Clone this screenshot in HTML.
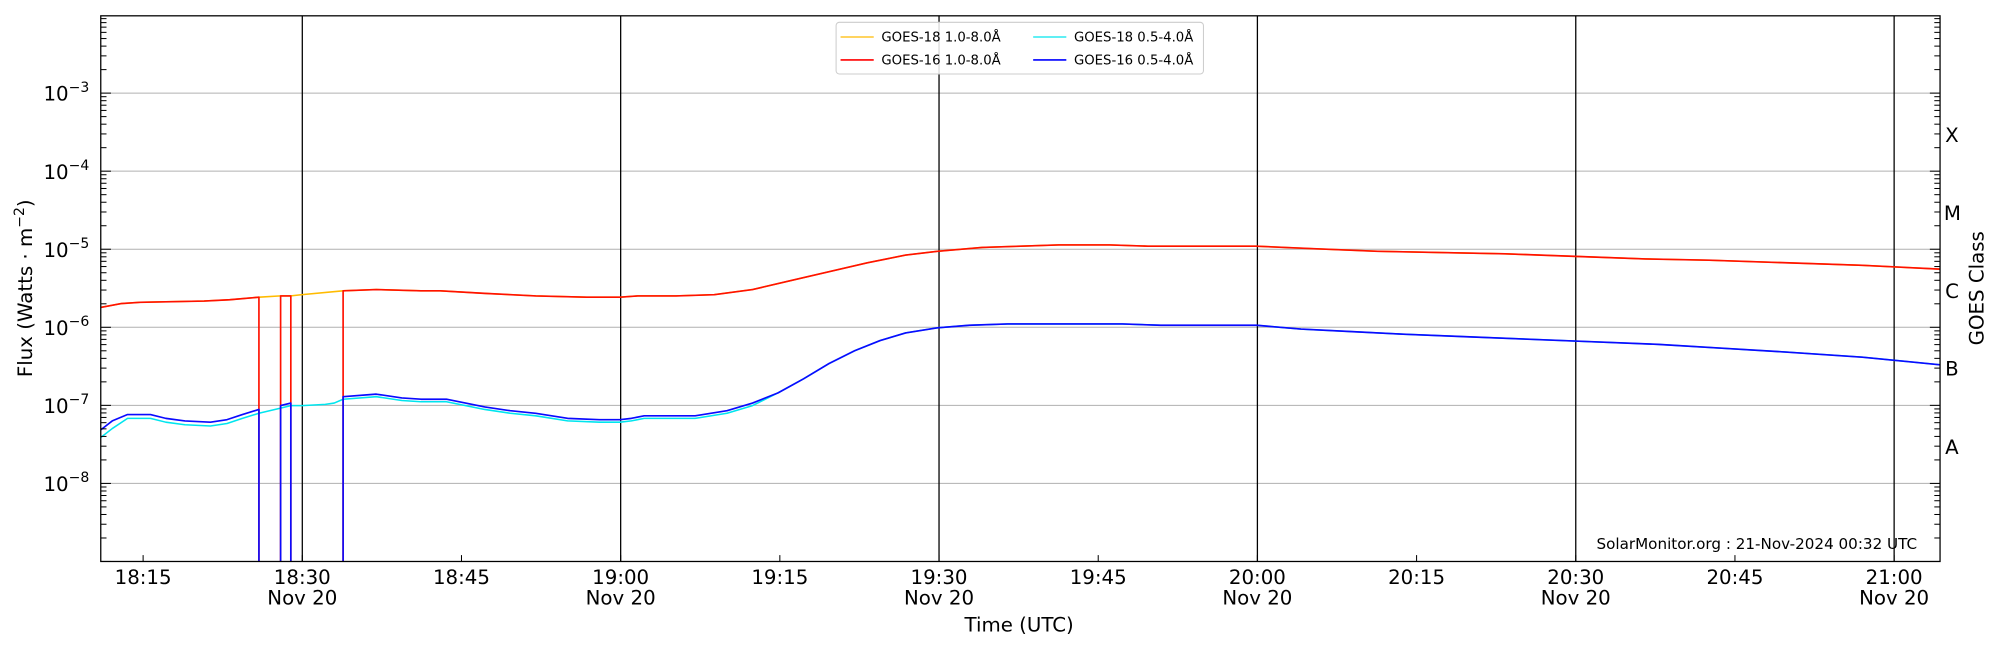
<!DOCTYPE html>
<html><head><meta charset="utf-8"><style>
html,body{margin:0;padding:0;background:#fff;}
svg{display:block;font-family:"DejaVu Sans","Liberation Sans",sans-serif;}
</style></head><body>
<svg id="s" width="2000" height="650" viewBox="0 0 1568 509.6" preserveAspectRatio="none" xmlns="http://www.w3.org/2000/svg">
<rect width="1568" height="509.6" fill="#fff"/>
<g id="grid"></g>
<g id="data" fill="none" stroke-linejoin="round"></g>
<g id="ticks" stroke="#000" stroke-width="0.8"></g>
<rect x="79" y="12.4" width="1442" height="427.8" fill="none" stroke="#000" stroke-width="1"/>
<g id="labels" font-size="15.5" fill="#000"></g>
<rect x="655.5" y="17.5" width="288" height="40.5" rx="2.5" fill="#fff" fill-opacity="0.85" stroke="#ccc" stroke-width="0.8"/>
<g font-size="10.4" fill="#000">
<line x1="659" y1="29" x2="685" y2="29" stroke="#ffbb00" stroke-width="1"/>
<text x="691" y="32.5">GOES-18 1.0-8.0Å</text>
<line x1="659" y1="47" x2="685" y2="47" stroke="#ff0000" stroke-width="1.2"/>
<text x="691" y="50.5">GOES-16 1.0-8.0Å</text>
<line x1="810" y1="29" x2="836" y2="29" stroke="#00e5ee" stroke-width="1"/>
<text x="842" y="32.5">GOES-18 0.5-4.0Å</text>
<line x1="810" y1="47" x2="836" y2="47" stroke="#0000ff" stroke-width="1.2"/>
<text x="842" y="50.5">GOES-16 0.5-4.0Å</text>
</g>
<text x="1503" y="430.5" font-size="11.9" text-anchor="end">SolarMonitor.org : 21-Nov-2024 00:32 UTC</text>
<text x="799" y="495" font-size="15.5" text-anchor="middle">Time (UTC)</text>
<text transform="translate(25,226) rotate(-90)" font-size="15.5" text-anchor="middle">Flux (Watts · m<tspan dy="-6" font-size="11">−2</tspan><tspan dy="6">)</tspan></text>
<text transform="translate(1555,226) rotate(-90)" font-size="15.5" text-anchor="middle">GOES Class</text>
<g font-size="15.5">
<text x="1525" y="111.5">X</text>
<text x="1524" y="172.5">M</text>
<text x="1525" y="233.5">C</text>
<text x="1525" y="294.5">B</text>
<text x="1525" y="356">A</text>
</g>
</svg>
<script>
var NS="http://www.w3.org/2000/svg";
function el(p,t,a,txt){var e=document.createElementNS(NS,t);for(var k in a)e.setAttribute(k,a[k]);if(txt!=null)e.textContent=txt;document.getElementById(p).appendChild(e);return e;}
var L=79,R=1521,T=12.4,B=440.2,D=61.2;
function yv(p){return B-(p+9)*D;}
for(var p=-8;p<=-3;p++){el("grid","line",{x1:L,x2:R,y1:yv(p),y2:yv(p),stroke:"#b0b0b0","stroke-width":0.8});}
for(var p=-9;p<=-3;p++){for(var m=1;m<10;m++){var y=B-(p+9+Math.log10(m))*D;if(y<T||y>B)continue;var len=m==1?8:4.5;
el("ticks","line",{x1:L,x2:L+len,y1:y,y2:y});el("ticks","line",{x1:R,x2:R-len,y1:y,y2:y});}}
for(var p=-8;p<=-3;p++){var t=el("labels","text",{x:70,y:yv(p)+6,"text-anchor":"end"});t.innerHTML='10<tspan dy="-7" font-size="11">−'+(-p)+'</tspan>';}
function xt(min){return 237+min*8.32;}
var tl=["18:15","18:30","18:45","19:00","19:15","19:30","19:45","20:00","20:15","20:30","20:45","21:00"];
for(var i=0;i<tl.length;i++){var m=-15+15*i,x=xt(m);
el("ticks","line",{x1:x,x2:x,y1:B,y2:B-5});
el("labels","text",{x:x,y:458,"text-anchor":"middle"},tl[i]);
if(m%30==0){el("grid","line",{x1:x,x2:x,y1:T,y2:B,stroke:"#000","stroke-width":1});el("labels","text",{x:x,y:474,"text-anchor":"middle"},"Nov 20");}}
function path(pts,col,w){el("data","polyline",{points:pts.map(function(a){return a[0]+","+a[1]}).join(" "),stroke:col,"stroke-width":w});}
var red=[[79,241],[95,238],[110,237],[160,236],[180,235],[203,233],[220,232],[228,232],[237,231],[269,228],[295,227],[330,228],[345,228],[380,230],[420,232],[460,233],[486,233],[500,232],[530,232],[560,231],[590,227],[620,220],[650,213],[680,206],[710,200],[735,197],[770,194],[800,193],[830,192],[870,192],[900,193],[950,193],[985,193],[1030,195],[1080,197],[1130,198],[1180,199],[1235,201],[1290,203],[1340,204],[1400,206],[1460,208],[1521,211]];
var blue=[[79,337],[88,330],[100,325],[118,325],[130,328],[145,330],[165,331],[178,329],[190,325],[203,321],[220,318],[228,316],[237,316],[255,315],[262,314],[269,311],[295,309],[315,312],[330,313],[350,313],[365,316],[380,319],[400,322],[420,324],[445,328],[470,329],[486,329],[495,328],[505,326],[530,326],[545,326],[570,322],[590,316],[610,308],[630,297],[650,285],[670,275],[690,267],[710,261],[735,257],[760,255],[790,254],[830,254],[880,254],[910,255],[950,255],[985,255],[1020,258],[1060,260],[1100,262],[1150,264],[1200,266],[1250,268],[1300,270],[1350,273],[1400,276],[1460,280],[1521,286]];
function seg(a,x0,x1){return a.filter(function(p){return p[0]>=x0&&p[0]<=x1});}
var cyan=blue.map(function(p){var o=p[0]<90?6:p[0]<210?3:p[0]<600?2:0;return [p[0],p[1]+o];});
path(red,"#ffbb00",1.2);
path(cyan,"#00e5ee",1.2);
function segs(a,col,w){path(seg(a,79,203).concat([[203,B]]),col,w);path([[220,B]].concat(seg(a,220,228)).concat([[228,B]]),col,w);path([[269,B]].concat(seg(a,269,1521)),col,w);}
segs(red,"#ff1100",1.3);
segs(blue,"#0a0aff",1.3);
</script>
</body></html>
